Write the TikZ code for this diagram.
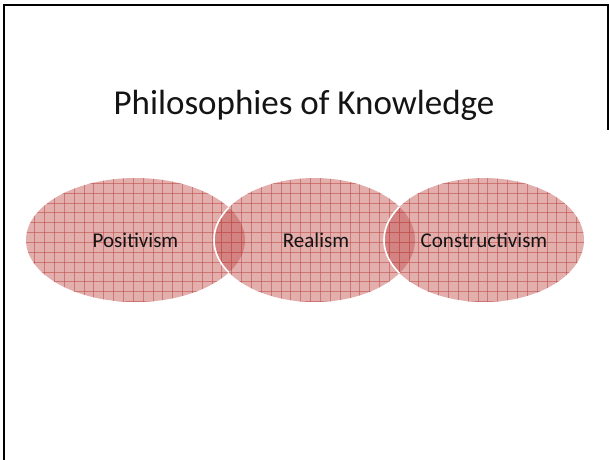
\documentclass[tikz,border=0pt]{standalone}
\usepackage{fontspec}
\setmainfont{Carlito}
\usetikzlibrary{shapes.geometric}
\definecolor{lobered}{RGB}{192,80,77}
\definecolor{inktext}{RGB}{20,20,20}
% page-aligned grid texture, drawn inside a clip
\newcommand\lobegrid{%
  \foreach \i in {0,...,62} {\draw[gridline] ({-4.6+9.85*\i},150) -- ++(0,180);}
  \foreach \j in {0,...,18} {\draw[gridline] (0,{153.8+9.85*\j}) -- ++(609,0);}
}
\tikzset{
  frameline/.style={draw=black, line width=2pt},
  titletext/.style={font=\fontsize{35}{42}\selectfont, text=inktext, anchor=base},
  gridline/.style={draw=lobered, draw opacity=0.6, line width=1pt},
  lobe/.style={ellipse, inner sep=0pt, minimum height=124pt,
    fill=lobered, fill opacity=0.46},
  lobelabel/.style={font=\fontsize{21}{25}\selectfont, text=inktext},
  rim/.style={draw=white, line width=1.6pt}
}
\begin{document}
\begin{tikzpicture}[x=1pt,y=-1pt]
\useasboundingbox (0,0) rectangle (609,459);
% slide frame
\draw[frameline] (4,470) -- (4,5) -- (607.5,5) -- (607.5,130);
% heading
\node[titletext] (title) at (304,114) {Philosophies of Knowledge};
% the three overlapping lobes
\node[lobe, minimum width=219pt] (pos) at (135.5,240) {};
\node[lobe, minimum width=201pt] (real) at (314.5,240) {};
\node[lobe, minimum width=200pt] (cons) at (484,240) {};
% grid texture on each lobe
\begin{scope}
  \clip (pos.center) ellipse [x radius=109.5, y radius=62];
  \lobegrid
\end{scope}
\begin{scope}
  \clip (real.center) ellipse [x radius=100.5, y radius=62];
  \lobegrid
\end{scope}
\begin{scope}
  \clip (cons.center) ellipse [x radius=100, y radius=62];
  \lobegrid
\end{scope}
% white rims where each lobe enters the previous one
\begin{scope}
  \clip (pos.center) ellipse [x radius=109.5, y radius=62];
  \draw[rim] (real.center) ellipse [x radius=100.5, y radius=62];
\end{scope}
\begin{scope}
  \clip (real.center) ellipse [x radius=100.5, y radius=62];
  \draw[rim] (cons.center) ellipse [x radius=100, y radius=62];
\end{scope}
% labels
\node[lobelabel] (posl) at (pos.center) {Positivism};
\node[lobelabel] (reall) at ([xshift=1.5pt]real.center) {Realism};
\node[lobelabel] (consl) at (cons.center) {Constructivism};
\end{tikzpicture}
\end{document}
